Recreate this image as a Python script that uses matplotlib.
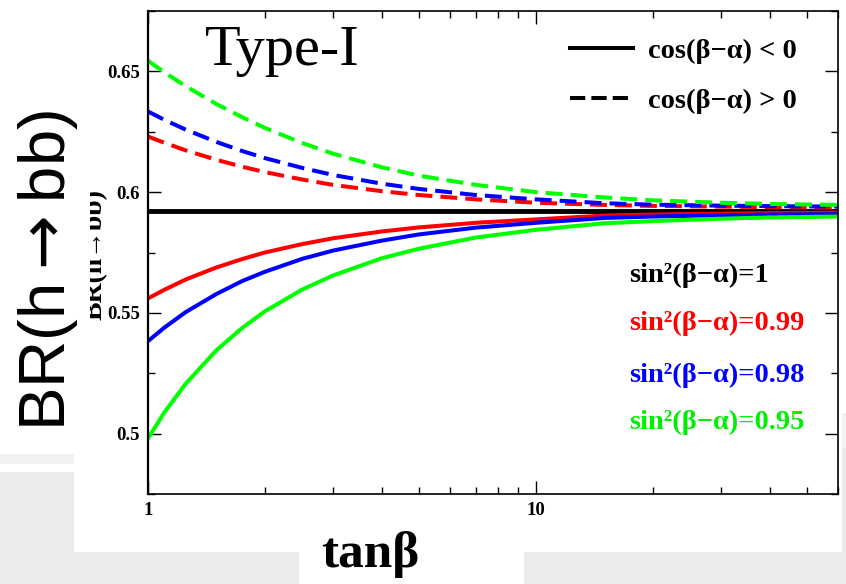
import matplotlib
matplotlib.use("Agg")
import matplotlib.pyplot as plt
import matplotlib.ticker as ticker
from matplotlib.lines import Line2D
from matplotlib.patches import Rectangle

# tan(beta) sample points
tanb = [1, 1.1, 1.25, 1.5, 1.75, 2, 2.5, 3, 4, 5, 7, 10, 15, 20, 30, 40, 60]

# SM-like line, sin^2(b-a)=1
tanb_sm = [1, 60]
br_sm = [0.5923, 0.5923]

# cos(b-a) < 0 (solid)
br_099_neg = [0.5560, 0.5595, 0.5638, 0.5688, 0.5723, 0.5750, 0.5785, 0.5809,
              0.5837, 0.5854, 0.5873, 0.5887, 0.5903, 0.5907, 0.5911, 0.5913, 0.5915]
br_098_neg = [0.5383, 0.5438, 0.5503, 0.5578, 0.5632, 0.5670, 0.5724, 0.5758,
              0.5799, 0.5825, 0.5853, 0.5873, 0.5893, 0.5899, 0.5904, 0.5907, 0.5909]
br_095_neg = [0.4980, 0.5086, 0.5206, 0.5345, 0.5438, 0.5506, 0.5597, 0.5655,
              0.5726, 0.5766, 0.5812, 0.5844, 0.5871, 0.5880, 0.5890, 0.5895, 0.5899]

# cos(b-a) > 0 (dashed)
br_099_pos = [0.6230, 0.6205, 0.6173, 0.6134, 0.6105, 0.6083, 0.6052, 0.6030,
              0.6004, 0.5988, 0.5970, 0.5956, 0.5947, 0.5943, 0.5940, 0.5938, 0.5936]
br_098_pos = [0.6334, 0.6300, 0.6259, 0.6208, 0.6170, 0.6141, 0.6100, 0.6071,
              0.6035, 0.6013, 0.5988, 0.5970, 0.5954, 0.5948, 0.5944, 0.5942, 0.5940]
br_095_pos = [0.6544, 0.6497, 0.6439, 0.6365, 0.6310, 0.6266, 0.6203, 0.6159,
              0.6103, 0.6068, 0.6030, 0.6000, 0.5978, 0.5966, 0.5956, 0.5951, 0.5947]

y_ticks = [0.5, 0.55, 0.6, 0.65]
y_ticklabels = ["0.5", "0.55", "0.6", "0.65"]
x_ticks = [1, 10]
x_ticklabels = ["1", "10"]

W, H = 846, 584
SERIF = ["Liberation Serif", "DejaVu Serif"]
SANS = ["Liberation Sans", "DejaVu Sans"]

plt.rcParams['font.family'] = SERIF
plt.rcParams['mathtext.fontset'] = 'dejavusans'
plt.rcParams['xtick.direction'] = 'in'
plt.rcParams['ytick.direction'] = 'in'

fig = plt.figure(figsize=(W / 100, H / 100), dpi=100)
fig.patch.set_facecolor("white")


def px_rect(x0, y0, x1, y1, color, z=0):
    # rectangle given in pixel coordinates (origin top-left)
    r = Rectangle((x0 / W, 1 - y1 / H), (x1 - x0) / W, (y1 - y0) / H,
                  transform=fig.transFigure, facecolor=color,
                  edgecolor="none", zorder=z)
    fig.add_artist(r)


# slide background pieces around the pasted plot
px_rect(0, 454, 74, 464, "#f2f2f2")
px_rect(0, 472, 74, 584, "#ebebeb")
px_rect(74, 552, 299, 584, "#ebebeb")
px_rect(524, 552, 846, 584, "#ebebeb")
px_rect(842, 413, 846, 448, "#f2f2f2")
px_rect(842, 448, 846, 584, "#ebebeb")

ax = fig.add_axes([148 / W, 1 - 494 / H, (838 - 148) / W, (494 - 11) / H])
ax.set_xscale("log")
ax.set_xlim(1, 60)
ax.set_ylim(0.475, 0.675)

lw = 2.9
dash = (4.2, 2.0)
ax.plot(tanb_sm, br_sm, color="black", lw=3.5)
ax.plot(tanb, br_099_neg, color="#ff0000", lw=lw)
ax.plot(tanb, br_098_neg, color="#0000ff", lw=lw)
ax.plot(tanb, br_095_neg, color="#00ff00", lw=lw)
ax.plot(tanb, br_099_pos, color="#ff0000", lw=lw, dashes=dash)
ax.plot(tanb, br_098_pos, color="#0000ff", lw=lw, dashes=dash)
ax.plot(tanb, br_095_pos, color="#00ff00", lw=lw, dashes=dash)

# axes / ticks
for side in ["top", "right", "bottom"]:
    ax.spines[side].set_linewidth(1.2)
ax.spines["left"].set_linewidth(1.6)
ax.xaxis.set_major_locator(ticker.FixedLocator(x_ticks))
ax.xaxis.set_minor_locator(ticker.LogLocator(base=10, subs=range(2, 10)))
ax.xaxis.set_major_formatter(ticker.FixedFormatter(x_ticklabels))
ax.xaxis.set_minor_formatter(ticker.NullFormatter())
ax.yaxis.set_major_locator(ticker.FixedLocator(y_ticks))
ax.yaxis.set_major_formatter(ticker.FixedFormatter(y_ticklabels))
ax.yaxis.set_minor_locator(ticker.MultipleLocator(0.025))
ax.tick_params(which="both", top=True, right=True, width=1.0)
ax.tick_params(which="major", length=9.5, labelsize=13.5, pad=6)
ax.tick_params(which="minor", length=5)
for lab in ax.get_xticklabels() + ax.get_yticklabels():
    lab.set_fontweight("bold")

# legend
handles = [Line2D([], [], color="black", lw=lw),
           Line2D([], [], color="black", lw=lw, dashes=(3.8, 1.5))]
ax.legend(handles, ["cos(β−α) < 0", "cos(β−α) > 0"], loc="upper right",
          bbox_to_anchor=(0.978, 0.998), frameon=False,
          prop={"family": SERIF, "weight": "bold", "size": 20.5},
          handlelength=2.2, handletextpad=0.55, labelspacing=0.85)

ax.text(0.0826, 0.888, "Type-I", transform=ax.transAxes, fontsize=42,
        va="baseline", ha="left")

labels = [("sin²(β−α)=1", "black", 0.4534),
          ("sin²(β−α)=0.99", "#ff0000", 0.354),
          ("sin²(β−α)=0.98", "#0000ff", 0.2464),
          ("sin²(β−α)=0.95", "#00ee00", 0.149)]
for txt, col, yy in labels:
    ax.text(0.697, yy, txt, transform=ax.transAxes, color=col, fontsize=20.5,
            fontweight="bold", va="center", ha="left")

# original small y title of the plot, partly hidden by the big label box
fig.text(95 / W, 1 - 255 / H, "BR(h→bb)", rotation=90, fontsize=20,
         fontweight="bold", ha="center", va="center", zorder=1)
px_rect(0, 0, 90, 454, "white", z=2)

fig.text(48 / W, 1 - 271 / H, r"BR(h$\rightarrow$bb)", rotation=90,
         fontsize=47, family=SANS, ha="center", va="center", zorder=3)
fig.text(370 / W, 1 - 567 / H, "tanβ", fontsize=37, fontweight="bold",
         ha="center", va="baseline", zorder=3)

fig.savefig("out.png", dpi=100)
